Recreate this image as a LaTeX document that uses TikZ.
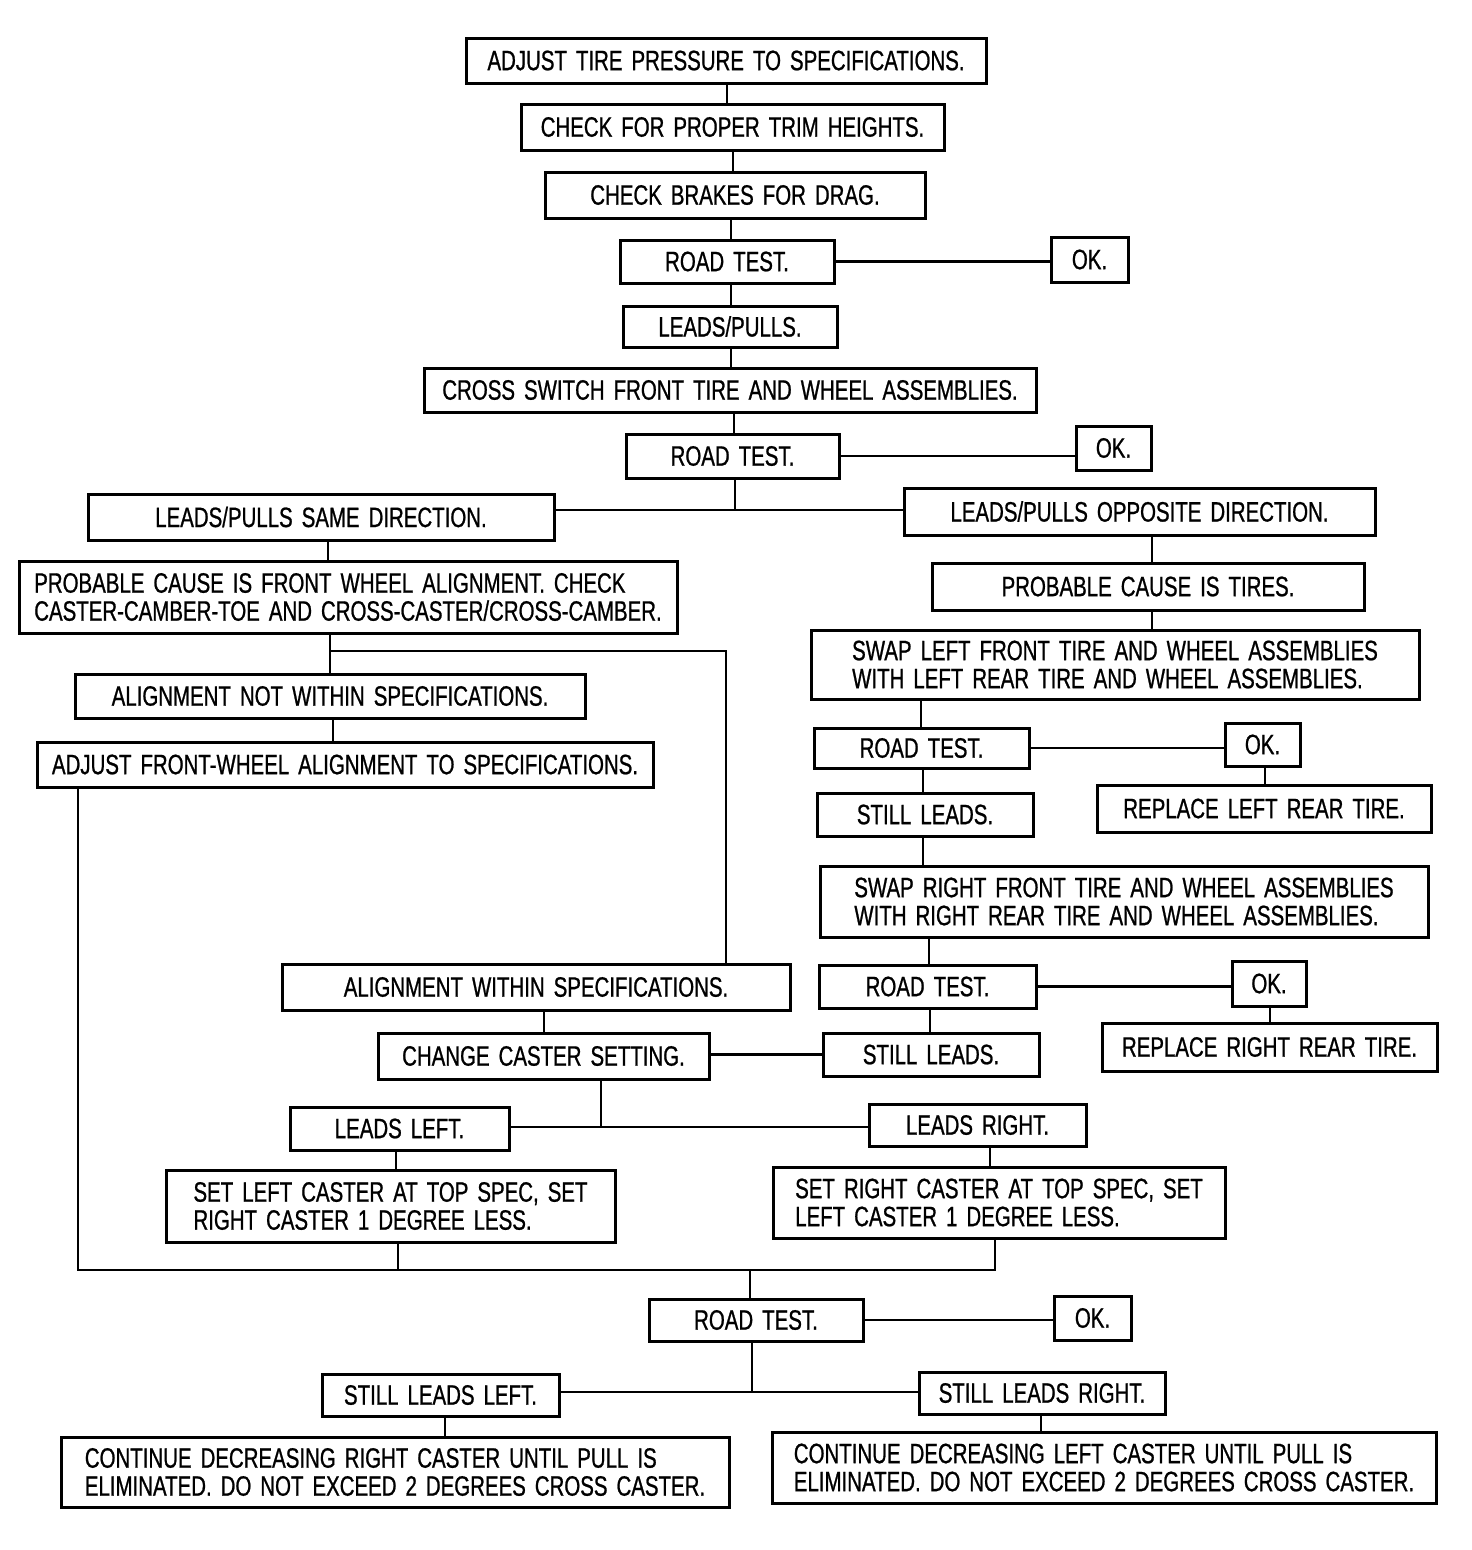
\documentclass[tikz,border=0pt]{standalone}
\usepackage{fontspec}
\setmainfont{Liberation Sans}[FakeStretch=0.73,FakeBold=0.8]
\newcommand{\bxfont}{\fontsize{28}{28}\selectfont\spaceskip 9pt plus 1pt\relax}
\begin{document}
\begin{tikzpicture}[x=1pt,y=-1pt,
  bx/.style={draw=black,line width=3pt,fill=white,inner sep=0pt,align=center,
    font=\bxfont},
  bxl/.style={bx,align=left},
  ln/.style={line width=2.3pt,line cap=rect}]
\useasboundingbox[fill=white] (0,0) rectangle (1472,1550);
% helper: box by center, width, height
\newcommand{\bxat}[6][bx]{\node[#1,minimum width=#5pt,minimum height=#6pt] (#2) at (#3,#4)}
\bxat{n1}{726}{60.5}{520}{45} {ADJUST TIRE PRESSURE TO SPECIFICATIONS.};
\bxat{n2}{732.5}{127}{423}{46} {CHECK FOR PROPER TRIM HEIGHTS.};
\bxat{n3}{735}{195}{380}{46} {CHECK BRAKES FOR DRAG.};
\bxat{rt1}{727}{261.5}{214}{43} {ROAD TEST.};
\bxat{ok1}{1089.5}{259.5}{77}{45} {OK.};
\bxat{lp}{730}{326.5}{214}{41} {LEADS/PULLS.};
\bxat{cs}{730}{390}{612}{44} {CROSS SWITCH FRONT TIRE AND WHEEL ASSEMBLIES.};
\bxat{rt2}{732.5}{456}{213}{44} {ROAD TEST.};
\bxat{ok2}{1113.5}{448}{75}{44} {OK.};
\bxat{same}{321}{517}{466}{46} {LEADS/PULLS SAME DIRECTION.};
\bxat{opp}{1139.5}{511.5}{471}{47} {LEADS/PULLS OPPOSITE DIRECTION.};
\bxat[bxl]{pcfw}{348}{597}{658}{72} {PROBABLE CAUSE IS FRONT WHEEL ALIGNMENT. CHECK\\CASTER-CAMBER-TOE AND CROSS-CASTER/CROSS-CAMBER.};
\bxat{pct}{1148}{586.5}{432}{47} {PROBABLE CAUSE IS TIRES.};
\bxat[bxl]{swl}{1115}{664.5}{608}{69} {SWAP LEFT FRONT TIRE AND WHEEL ASSEMBLIES\\WITH LEFT REAR TIRE AND WHEEL ASSEMBLIES.};
\bxat{anw}{330}{696}{510}{44} {ALIGNMENT NOT WITHIN SPECIFICATIONS.};
\bxat{afw}{345}{764.5}{616}{45} {ADJUST FRONT-WHEEL ALIGNMENT TO SPECIFICATIONS.};
\bxat{rt3}{921.5}{748}{215}{40} {ROAD TEST.};
\bxat{ok3}{1262.5}{744.5}{75}{43} {OK.};
\bxat{sl1}{925}{814.5}{216}{43} {STILL LEADS.};
\bxat{rlr}{1264}{808.5}{334}{47} {REPLACE LEFT REAR TIRE.};
\bxat[bxl]{swr}{1124}{901.5}{608}{71} {SWAP RIGHT FRONT TIRE AND WHEEL ASSEMBLIES\\WITH RIGHT REAR TIRE AND WHEEL ASSEMBLIES.};
\bxat{rt4}{927.5}{986.5}{217}{43} {ROAD TEST.};
\bxat{ok4}{1269}{983.5}{74}{45} {OK.};
\bxat{aw}{536}{987}{508}{46} {ALIGNMENT WITHIN SPECIFICATIONS.};
\bxat{sl2}{931}{1054.5}{216}{43} {STILL LEADS.};
\bxat{rrr}{1269.5}{1047}{335}{48} {REPLACE RIGHT REAR TIRE.};
\bxat{ccs}{543.5}{1056}{331}{46} {CHANGE CASTER SETTING.};
\bxat{ll}{399.5}{1128.5}{219}{43} {LEADS LEFT.};
\bxat{lr}{977.5}{1125}{217}{42} {LEADS RIGHT.};
\bxat[bxl]{slc}{390.5}{1206}{449}{72} {SET LEFT CASTER AT TOP SPEC, SET\\RIGHT CASTER 1 DEGREE LESS.};
\bxat[bxl]{src}{999}{1202.5}{452}{71} {SET RIGHT CASTER AT TOP SPEC, SET\\LEFT CASTER 1 DEGREE LESS.};
\bxat{rt5}{756}{1320}{214}{42} {ROAD TEST.};
\bxat{ok5}{1092.5}{1318}{77}{44} {OK.};
\bxat{sll}{440.5}{1395}{237}{42} {STILL LEADS LEFT.};
\bxat{slr}{1042}{1393}{246}{42} {STILL LEADS RIGHT.};
\bxat[bxl]{cdr}{395}{1472}{668}{70} {CONTINUE DECREASING RIGHT CASTER UNTIL PULL IS\\ELIMINATED. DO NOT EXCEED 2 DEGREES CROSS CASTER.};
\bxat[bxl]{cdl}{1104}{1467.5}{664}{71} {CONTINUE DECREASING LEFT CASTER UNTIL PULL IS\\ELIMINATED. DO NOT EXCEED 2 DEGREES CROSS CASTER.};
% junction / routing coordinates
\coordinate (xa) at (727,0);
\coordinate (xb) at (733,0);
\coordinate (xc) at (731,0);
\coordinate (xd) at (734,0);
\coordinate (j1) at (735,510);
\coordinate (xs) at (328,0);
\coordinate (j2) at (330,651);
\coordinate (j3) at (726,651);
\coordinate (xan) at (333,0);
\coordinate (bl) at (78,1270);
\coordinate (br) at (995,1270);
\coordinate (bm) at (750,1270);
\coordinate (xslc) at (398,0);
\coordinate (xo) at (1152,0);
\coordinate (x3) at (921,0);
\coordinate (x3b) at (923,0);
\coordinate (x4) at (929,0);
\coordinate (x4b) at (930,0);
\coordinate (xok3) at (1265,0);
\coordinate (xok4) at (1270,0);
\coordinate (xaw) at (544,0);
\coordinate (j4) at (601,1127);
\coordinate (xll) at (396,0);
\coordinate (xlr) at (990,0);
\coordinate (j5) at (752,1392);
\coordinate (xsll) at (445,0);
\coordinate (xslr) at (1041,0);
\draw[ln] (n1.south -| xa) -- (n2.north -| xa);
\draw[ln] (n2.south -| xb) -- (n3.north -| xb);
\draw[ln] (n3.south -| xc) -- (rt1.north -| xc);
\draw[ln] (rt1.east) -- (rt1.east -| ok1.west);
\draw[ln] (rt1.south -| xc) -- (lp.north -| xc);
\draw[ln] (lp.south -| xc) -- (cs.north -| xc);
\draw[ln] (cs.south -| xd) -- (rt2.north -| xd);
\draw[ln] (rt2.east) -- (rt2.east -| ok2.west);
\draw[ln] (rt2.south -| j1) -- (j1);
\draw[ln] (same.east |- j1) -- (opp.west |- j1);
\draw[ln] (same.south -| xs) -- (pcfw.north -| xs);
\draw[ln] (pcfw.south -| j2) -- (anw.north -| j2);
\draw[ln] (j2) -- (j3) -- (aw.north -| j3);
\draw[ln] (anw.south -| xan) -- (afw.north -| xan);
\draw[ln] (afw.south -| bl) -- (bl) -- (br) -- (src.south -| br);
\draw[ln] (slc.south -| xslc) -- (bl -| xslc);
\draw[ln] (bm) -- (rt5.north -| bm);
\draw[ln] (opp.south -| xo) -- (pct.north -| xo);
\draw[ln] (pct.south -| xo) -- (swl.north -| xo);
\draw[ln] (swl.south -| x3) -- (rt3.north -| x3);
\draw[ln] (rt3.east) -- (rt3.east -| ok3.west);
\draw[ln] (ok3.south -| xok3) -- (rlr.north -| xok3);
\draw[ln] (rt3.south -| x3b) -- (sl1.north -| x3b);
\draw[ln] (sl1.south -| x3b) -- (swr.north -| x3b);
\draw[ln] (swr.south -| x4) -- (rt4.north -| x4);
\draw[ln] (rt4.east) -- (rt4.east -| ok4.west);
\draw[ln] (ok4.south -| xok4) -- (rrr.north -| xok4);
\draw[ln] (rt4.south -| x4b) -- (sl2.north -| x4b);
\draw[ln] (sl2.west) -- (sl2.west -| ccs.east);
\draw[ln] (aw.south -| xaw) -- (ccs.north -| xaw);
\draw[ln] (ccs.south -| j4) -- (j4);
\draw[ln] (ll.east |- j4) -- (lr.west |- j4);
\draw[ln] (ll.south -| xll) -- (slc.north -| xll);
\draw[ln] (lr.south -| xlr) -- (src.north -| xlr);
\draw[ln] (rt5.east) -- (rt5.east -| ok5.west);
\draw[ln] (rt5.south -| j5) -- (j5);
\draw[ln] (sll.east |- j5) -- (slr.west |- j5);
\draw[ln] (sll.south -| xsll) -- (cdr.north -| xsll);
\draw[ln] (slr.south -| xslr) -- (cdl.north -| xslr);
\end{tikzpicture}
\end{document}
